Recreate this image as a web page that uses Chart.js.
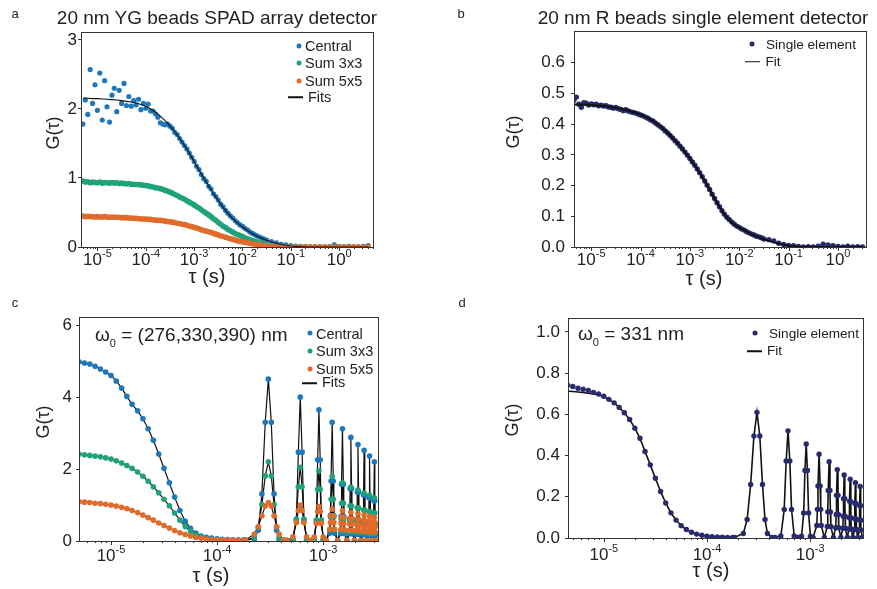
<!DOCTYPE html>
<html>
<head>
<meta charset="utf-8">
<script src="https://cdn.jsdelivr.net/npm/chart.js@4.4.1/dist/chart.umd.min.js"></script>
<style>
  body { margin: 0; background: #fff; }
  #fig { position: relative; width: 877px; height: 589px; overflow: hidden;
         font-family: Arial, "Liberation Sans", Helvetica, sans-serif; color: #222; }
  canvas { position: absolute; }
  .t { position: absolute; transform: translate(-50%, -50%); white-space: nowrap; line-height: 1; }
  .l { position: absolute; transform: translateY(-50%); white-space: nowrap; line-height: 1; }
  .rot { transform: translate(-50%, -50%) rotate(-90deg); }
  .dot { position: absolute; width: 5px; height: 5px; border-radius: 50%; transform: translate(-50%, -50%); }
  .ln { position: absolute; height: 1.5px; background: #111; transform: translateY(-50%); }
  sub { font-size: 11px; vertical-align: -6px; line-height: 0; }
</style>
</head>
<body>
<div id="fig">
  <canvas id="ca" width="440" height="290" style="left:0;top:0"></canvas>
  <canvas id="cb" width="437" height="290" style="left:440px;top:0"></canvas>
  <canvas id="cc" width="440" height="299" style="left:0;top:290px"></canvas>
  <canvas id="cd" width="437" height="299" style="left:440px;top:290px"></canvas>

  <!-- panel a -->
  <div class="t" style="left:15px;top:13px;font-size:13px">a</div>
  <div class="t" style="left:217px;top:17px;font-size:19px">20 nm YG beads SPAD array detector</div>
  <div class="t rot" style="left:53px;top:133px;font-size:18px">G(τ)</div>
  <div class="t" style="left:207px;top:276px;font-size:20px">τ (s)</div>
  <div class="dot" style="left:299px;top:46px;background:#1f77bb"></div>
  <div class="l" style="left:305px;top:45.5px;font-size:14.5px">Central</div>
  <div class="dot" style="left:299px;top:63px;background:#1fa27a"></div>
  <div class="l" style="left:305px;top:63px;font-size:14.5px">Sum 3x3</div>
  <div class="dot" style="left:299px;top:80.5px;background:#e06b2a"></div>
  <div class="l" style="left:305px;top:80.5px;font-size:14.5px">Sum 5x5</div>
  <div class="ln" style="left:288px;top:97px;width:15px"></div>
  <div class="l" style="left:308px;top:96.5px;font-size:14.5px">Fits</div>

  <!-- panel b -->
  <div class="t" style="left:461px;top:12.5px;font-size:13px">b</div>
  <div class="t" style="left:703px;top:17px;font-size:19px">20 nm R beads single element detector</div>
  <div class="t rot" style="left:513px;top:132px;font-size:18px">G(τ)</div>
  <div class="t" style="left:704px;top:278px;font-size:20px">τ (s)</div>
  <div class="dot" style="left:752px;top:43.5px;background:#282a6e"></div>
  <div class="l" style="left:766px;top:44.5px;font-size:13.6px">Single element</div>
  <div class="ln" style="left:745px;top:61.5px;width:15px"></div>
  <div class="l" style="left:765.5px;top:61.5px;font-size:13.6px">Fit</div>

  <!-- panel c -->
  <div class="t" style="left:15px;top:301.5px;font-size:13px">c</div>
  <div class="l" style="left:95px;top:334px;font-size:19px">ω<sub>0</sub> = (276,330,390) nm</div>
  <div class="t rot" style="left:43px;top:422px;font-size:18px">G(τ)</div>
  <div class="t" style="left:211px;top:575px;font-size:20px">τ (s)</div>
  <div class="dot" style="left:310px;top:333px;background:#1f77bb"></div>
  <div class="l" style="left:316px;top:333.5px;font-size:14.5px">Central</div>
  <div class="dot" style="left:309.5px;top:351px;background:#1fa27a"></div>
  <div class="l" style="left:316px;top:351px;font-size:14.5px">Sum 3x3</div>
  <div class="dot" style="left:309.5px;top:369px;background:#e06b2a"></div>
  <div class="l" style="left:316px;top:368.5px;font-size:14.5px">Sum 5x5</div>
  <div class="ln" style="left:302px;top:383px;width:15px"></div>
  <div class="l" style="left:322px;top:382px;font-size:14.5px">Fits</div>

  <!-- panel d -->
  <div class="t" style="left:462px;top:302px;font-size:13px">d</div>
  <div class="l" style="left:578px;top:333px;font-size:19px">ω<sub>0</sub> = 331 nm</div>
  <div class="t rot" style="left:512px;top:420px;font-size:18px">G(τ)</div>
  <div class="t" style="left:711px;top:570px;font-size:20px">τ (s)</div>
  <div class="dot" style="left:755px;top:333px;background:#282a6e"></div>
  <div class="l" style="left:769px;top:333.5px;font-size:13.6px">Single element</div>
  <div class="ln" style="left:747px;top:351px;width:15px"></div>
  <div class="l" style="left:767px;top:351px;font-size:13.6px">Fit</div>
</div>

<script>
// ---------- panel a : 20 nm YG beads, SPAD array ----------
const tauA = [
  5.01e-6, 5.62e-6, 6.31e-6, 7.08e-6, 7.94e-6, 8.91e-6,
  1.00e-5, 1.12e-5, 1.26e-5, 1.41e-5, 1.58e-5, 1.78e-5, 2.00e-5, 2.24e-5, 2.51e-5, 2.82e-5,
  3.16e-5, 3.55e-5, 3.98e-5, 4.47e-5, 5.01e-5, 5.62e-5, 6.31e-5, 7.08e-5, 7.94e-5, 8.91e-5,
  1.00e-4, 1.12e-4, 1.26e-4, 1.41e-4, 1.58e-4, 1.78e-4, 2.00e-4, 2.24e-4, 2.51e-4, 2.82e-4,
  3.16e-4, 3.55e-4, 3.98e-4, 4.47e-4, 5.01e-4, 5.62e-4, 6.31e-4, 7.08e-4, 7.94e-4, 8.91e-4,
  1.00e-3, 1.12e-3, 1.26e-3, 1.41e-3, 1.58e-3, 1.78e-3, 2.00e-3, 2.24e-3, 2.51e-3, 2.82e-3,
  3.16e-3, 3.55e-3, 3.98e-3, 4.47e-3, 5.01e-3, 5.62e-3, 6.31e-3, 7.08e-3, 7.94e-3, 8.91e-3,
  1.00e-2, 1.12e-2, 1.26e-2, 1.41e-2, 1.58e-2, 1.78e-2, 2.00e-2, 2.24e-2, 2.51e-2, 2.82e-2, 3.16e-2,
  3.98e-2, 5.01e-2, 6.31e-2, 7.94e-2, 0.1, 0.126, 0.158, 0.2, 0.251, 0.316, 0.398,
  0.501, 0.631, 0.794, 1, 1.26, 1.58, 2.0, 2.51, 3.16, 3.98
];
const centralA = [
  1.78, 2.13, 1.92, 2.57, 2.08, 2.35,
  1.98, 2.52, 1.84, 2.41, 2.03, 1.81, 2.20, 2.30, 1.96, 2.27,
  2.08, 2.37, 2.05, 2.18, 2.04, 2.12, 2.06, 2.14, 1.99, 2.08,
  2.01, 2.07, 1.97, 1.97, 1.93, 1.88, 1.80, 1.78, 1.77, 1.78,
  1.75, 1.72, 1.66, 1.63, 1.57, 1.52, 1.47, 1.42, 1.36, 1.30,
  1.24, 1.17, 1.12, 1.05, 0.99, 0.95, 0.88, 0.84, 0.77, 0.73,
  0.68, 0.62, 0.58, 0.53, 0.49, 0.45, 0.42, 0.38, 0.35, 0.32,
  0.30, 0.27, 0.25, 0.22, 0.20, 0.18, 0.16, 0.145, 0.13, 0.115, 0.10,
  0.08, 0.06, 0.04, 0.03, 0.02, 0.012, 0.008, 0.005, 0.003, 0.002, 0.004,
  0.0, 0.002, 0.03, 0.006, 0.0, 0.008, 0.002, 0.0, 0.01, 0.02
];
const sum3A = [
  0.955, 0.94, 0.945, 0.93, 0.94, 0.935,
  0.93, 0.94, 0.925, 0.935, 0.93, 0.925, 0.935, 0.925, 0.93, 0.92,
  0.925, 0.92, 0.915, 0.92, 0.91, 0.91, 0.905, 0.905, 0.90, 0.895,
  0.89, 0.885, 0.875, 0.87, 0.86, 0.855, 0.845, 0.835, 0.82, 0.81,
  0.795, 0.78, 0.76, 0.745, 0.725, 0.71, 0.69, 0.67, 0.65, 0.63,
  0.61, 0.585, 0.565, 0.54, 0.515, 0.49, 0.465, 0.44, 0.41, 0.385,
  0.355, 0.33, 0.30, 0.28, 0.255, 0.235, 0.215, 0.195, 0.18, 0.165,
  0.15, 0.135, 0.12, 0.107, 0.095, 0.082, 0.07, 0.06, 0.05, 0.042, 0.035,
  0.022, 0.013, 0.008, 0.004, 0.002, 0.001, 0, 0, 0, 0, 0,
  0, 0, 0, 0, 0, 0, 0, 0, 0, 0
];
const sum5A = [
  0.45, 0.44, 0.445, 0.44, 0.44, 0.435,
  0.44, 0.435, 0.435, 0.44, 0.435, 0.43, 0.435, 0.43, 0.43, 0.43,
  0.425, 0.425, 0.425, 0.42, 0.42, 0.415, 0.415, 0.41, 0.41, 0.405,
  0.405, 0.40, 0.40, 0.395, 0.39, 0.385, 0.385, 0.38, 0.375, 0.37,
  0.365, 0.36, 0.355, 0.345, 0.34, 0.33, 0.325, 0.315, 0.305, 0.295,
  0.285, 0.275, 0.265, 0.25, 0.24, 0.23, 0.22, 0.21, 0.198, 0.186,
  0.175, 0.163, 0.152, 0.141, 0.13, 0.12, 0.11, 0.10, 0.09, 0.082,
  0.075, 0.068, 0.062, 0.055, 0.048, 0.042, 0.037, 0.031, 0.026, 0.022, 0.018,
  0.011, 0.006, 0.003, 0.001, 0, 0, 0, 0, 0, 0, 0,
  0, 0, 0, 0, 0, 0, 0, 0, 0, 0
];
const tauFitA = [
  5.01e-6, 6.31e-6, 7.94e-6,
  1e-5, 1.26e-5, 1.58e-5, 2e-5, 2.51e-5, 3.16e-5, 3.98e-5, 5.01e-5, 6.31e-5, 7.94e-5,
  1e-4, 1.26e-4, 1.58e-4, 2e-4, 2.51e-4, 3.16e-4, 3.98e-4, 5.01e-4, 6.31e-4, 7.94e-4,
  1e-3, 1.26e-3, 1.58e-3, 2e-3, 2.51e-3, 3.16e-3, 3.98e-3, 5.01e-3, 6.31e-3, 7.94e-3,
  1e-2, 1.26e-2, 1.58e-2, 2e-2, 2.51e-2, 3.16e-2, 3.98e-2, 5.01e-2, 6.31e-2, 7.94e-2,
  0.1, 0.126, 0.158, 0.2, 0.251, 0.316, 0.398, 0.501, 0.631, 0.794,
  1, 1.26, 1.58, 2, 2.51, 3.16, 3.98
];
const fitCentralA = [
  2.155, 2.155, 2.15, 2.15, 2.145, 2.14, 2.135, 2.13, 2.12, 2.11,
  2.10, 2.085, 2.065, 2.04, 2.00, 1.955, 1.895, 1.83, 1.755, 1.67,
  1.575, 1.47, 1.36, 1.24, 1.115, 1.00, 0.885, 0.775, 0.67, 0.57,
  0.485, 0.41, 0.345, 0.29, 0.24, 0.195, 0.157, 0.125, 0.097, 0.073,
  0.053, 0.037, 0.025, 0.015, 0.009, 0.005, 0.003, 0.001, 0, 0,
  0, 0, 0, 0, 0, 0, 0, 0, 0, 0
];
const fitSum3A = [
  0.95, 0.94, 0.935, 0.935, 0.93, 0.93, 0.93, 0.925, 0.925, 0.92,
  0.915, 0.91, 0.905, 0.895, 0.88, 0.865, 0.85, 0.825, 0.80, 0.765,
  0.73, 0.69, 0.65, 0.61, 0.565, 0.515, 0.465, 0.41, 0.355, 0.30,
  0.255, 0.215, 0.18, 0.15, 0.12, 0.095, 0.07, 0.05, 0.035, 0.022,
  0.013, 0.007, 0.004, 0.002, 0, 0, 0, 0, 0, 0,
  0, 0, 0, 0, 0, 0, 0, 0, 0, 0
];
const fitSum5A = [
  0.445, 0.44, 0.44, 0.44, 0.435, 0.435, 0.435, 0.43, 0.43, 0.425,
  0.42, 0.415, 0.41, 0.405, 0.40, 0.39, 0.385, 0.375, 0.365, 0.355,
  0.34, 0.325, 0.305, 0.285, 0.265, 0.24, 0.22, 0.198, 0.175, 0.152,
  0.13, 0.11, 0.09, 0.075, 0.062, 0.048, 0.037, 0.026, 0.018, 0.011,
  0.006, 0.003, 0.001, 0, 0, 0, 0, 0, 0, 0,
  0, 0, 0, 0, 0, 0, 0, 0, 0, 0
];

// ---------- panel b : 20 nm R beads, single element ----------
const tauB = [
  3.98e-6, 4.47e-6, 5.01e-6, 5.62e-6, 6.31e-6, 7.08e-6, 7.94e-6, 8.91e-6,
  1.00e-5, 1.12e-5, 1.26e-5, 1.41e-5, 1.58e-5, 1.78e-5, 2.00e-5, 2.24e-5, 2.51e-5, 2.82e-5,
  3.16e-5, 3.55e-5, 3.98e-5, 4.47e-5, 5.01e-5, 5.62e-5, 6.31e-5, 7.08e-5, 7.94e-5, 8.91e-5,
  1.00e-4, 1.12e-4, 1.26e-4, 1.41e-4, 1.58e-4, 1.78e-4, 2.00e-4, 2.24e-4, 2.51e-4, 2.82e-4,
  3.16e-4, 3.55e-4, 3.98e-4, 4.47e-4, 5.01e-4, 5.62e-4, 6.31e-4, 7.08e-4, 7.94e-4, 8.91e-4,
  1.00e-3, 1.12e-3, 1.26e-3, 1.41e-3, 1.58e-3, 1.78e-3, 2.00e-3, 2.24e-3, 2.51e-3, 2.82e-3,
  3.16e-3, 3.55e-3, 3.98e-3, 4.47e-3, 5.01e-3, 5.62e-3, 6.31e-3, 7.08e-3, 7.94e-3, 8.91e-3,
  1.00e-2, 1.12e-2, 1.26e-2, 1.41e-2, 1.58e-2, 1.78e-2, 2.00e-2, 2.24e-2, 2.51e-2, 2.82e-2, 3.16e-2,
  3.98e-2, 5.01e-2, 6.31e-2, 7.94e-2, 0.1, 0.126, 0.158, 0.2, 0.251, 0.316,
  0.398, 0.501, 0.631, 0.794, 1, 1.26, 1.58, 2.0, 2.51, 3.16
];
const singleB = [
  0.485, 0.478, 0.488, 0.465, 0.455, 0.47, 0.468, 0.462,
  0.466, 0.463, 0.465, 0.46, 0.462, 0.459, 0.46, 0.456, 0.455, 0.452,
  0.454, 0.45, 0.448, 0.444, 0.447, 0.443, 0.44, 0.438, 0.436, 0.433,
  0.43, 0.427, 0.423, 0.419, 0.414, 0.41, 0.404, 0.398, 0.392, 0.386,
  0.378, 0.371, 0.363, 0.355, 0.346, 0.338, 0.328, 0.319, 0.309, 0.299,
  0.288, 0.277, 0.266, 0.254, 0.242, 0.229, 0.215, 0.201, 0.187, 0.172,
  0.158, 0.144, 0.131, 0.118, 0.107, 0.097, 0.089, 0.081, 0.074, 0.068,
  0.064, 0.059, 0.055, 0.05, 0.046, 0.042, 0.039, 0.035, 0.033, 0.03, 0.026,
  0.024, 0.02, 0.012, 0.008, 0.005, 0.004, 0.002, 0, 0.001, 0,
  0.003, 0.009, 0.007, 0.004, 0.002, 0, 0.003, 0, 0.001, 0
];
const tauFitB = [
  3.98e-6, 5.01e-6, 6.31e-6, 7.94e-6,
  1e-5, 1.26e-5, 1.58e-5, 2e-5, 2.51e-5, 3.16e-5, 3.98e-5, 5.01e-5, 6.31e-5, 7.94e-5,
  1e-4, 1.26e-4, 1.58e-4, 2e-4, 2.51e-4, 3.16e-4, 3.98e-4, 5.01e-4, 6.31e-4, 7.94e-4,
  1e-3, 1.26e-3, 1.58e-3, 2e-3, 2.51e-3, 3.16e-3, 3.98e-3, 5.01e-3, 6.31e-3, 7.94e-3,
  1e-2, 1.26e-2, 1.58e-2, 2e-2, 2.51e-2, 3.16e-2, 3.98e-2, 5.01e-2, 6.31e-2, 7.94e-2,
  0.1, 0.126, 0.158, 0.2, 0.251, 0.316, 0.398, 0.501, 0.631, 0.794,
  1, 1.26, 1.58, 2, 2.51, 3.16
];
const fitSingleB = [
  0.464, 0.464, 0.463, 0.463, 0.462, 0.461, 0.46, 0.458, 0.456, 0.453,
  0.45, 0.446, 0.442, 0.437, 0.431, 0.424, 0.415, 0.405, 0.393, 0.379,
  0.364, 0.347, 0.329, 0.309, 0.289, 0.266, 0.242, 0.215, 0.187, 0.158,
  0.13, 0.106, 0.087, 0.073, 0.063, 0.054, 0.046, 0.038, 0.031, 0.025,
  0.02, 0.015, 0.011, 0.007, 0.004, 0.002, 0.001, 0, 0, 0,
  0, 0, 0, 0, 0, 0, 0, 0, 0, 0
];

// ---------- panels c and d : scanning, same lag grid ----------
const tauCD = [
  4.47e-6, 5.01e-6, 5.62e-6, 6.31e-6, 7.08e-6, 7.94e-6, 8.91e-6,
  1.00e-5, 1.12e-5, 1.26e-5, 1.41e-5, 1.58e-5, 1.78e-5, 2.00e-5, 2.24e-5, 2.51e-5, 2.82e-5,
  3.16e-5, 3.55e-5, 3.98e-5, 4.47e-5, 5.01e-5, 5.62e-5, 6.31e-5, 7.08e-5, 7.94e-5, 8.91e-5,
  1.00e-4, 1.12e-4, 1.26e-4, 1.41e-4, 1.58e-4, 1.78e-4,
  1.85e-4, 2.25e-4, 2.45e-4, 2.65e-4, 2.85e-4, 3.05e-4, 3.25e-4, 3.45e-4, 3.65e-4, 3.85e-4, 4.25e-4, 4.575e-4,
  5.2e-4, 5.6e-4, 5.85e-4, 6.1e-4, 6.35e-4, 6.6e-4, 7.0e-4, 7.625e-4,
  8.25e-4, 8.65e-4, 8.9e-4, 9.15e-4, 9.4e-4, 9.65e-4, 1.005e-3, 1.0675e-3,
  1.16e-3, 1.175e-3, 1.19e-3, 1.22e-3, 1.25e-3, 1.265e-3, 1.28e-3, 1.3725e-3,
  1.465e-3, 1.48e-3, 1.495e-3, 1.525e-3, 1.555e-3, 1.57e-3, 1.585e-3, 1.6775e-3,
  1.77e-3, 1.785e-3, 1.80e-3, 1.83e-3, 1.86e-3, 1.875e-3, 1.89e-3, 1.9825e-3,
  2.075e-3, 2.09e-3, 2.105e-3, 2.135e-3, 2.165e-3, 2.18e-3, 2.195e-3, 2.2875e-3,
  2.38e-3, 2.395e-3, 2.41e-3, 2.44e-3, 2.47e-3, 2.485e-3, 2.50e-3, 2.5925e-3,
  2.685e-3, 2.70e-3, 2.715e-3, 2.745e-3, 2.775e-3, 2.79e-3, 2.805e-3, 2.8975e-3,
  2.99e-3, 3.005e-3, 3.02e-3, 3.05e-3, 3.08e-3, 3.095e-3, 3.11e-3, 3.20e-3
];
const centralC = [
  5.00, 4.98, 4.95, 4.92, 4.86, 4.78, 4.70,
  4.60, 4.45, 4.25, 4.02, 3.80, 3.62, 3.40, 3.12, 2.80, 2.42,
  2.02, 1.62, 1.22, 0.85, 0.55, 0.35, 0.22, 0.14, 0.10, 0.08,
  0.06, 0.05, 0.04, 0.035, 0.03, 0.03,
  0.03, 0.05, 0.30, 1.31, 3.30, 4.50, 3.30, 1.31, 0.30, 0.05, 0.02, 0.02,
  0.03, 0.58, 2.47, 4.00, 2.47, 0.58, 0.03, 0.02,
  0.03, 0.53, 2.26, 3.65, 2.26, 0.53, 0.03, 0.02,
  0.22, 0.71, 1.67, 3.30, 1.67, 0.71, 0.22, 0.02,
  0.21, 0.68, 1.58, 3.12, 1.58, 0.68, 0.21, 0.02,
  0.20, 0.62, 1.46, 2.88, 1.46, 0.62, 0.20, 0.02,
  0.19, 0.58, 1.36, 2.68, 1.36, 0.58, 0.19, 0.02,
  0.18, 0.55, 1.28, 2.52, 1.28, 0.55, 0.18, 0.02,
  0.17, 0.52, 1.20, 2.36, 1.20, 0.52, 0.17, 0.02,
  0.16, 0.48, 1.12, 2.20, 1.12, 0.48, 0.16, 0.02
];
const sum3C = [
  2.42, 2.41, 2.40, 2.38, 2.36, 2.34, 2.31,
  2.28, 2.23, 2.17, 2.10, 2.02, 1.92, 1.80, 1.66, 1.51, 1.34,
  1.16, 0.98, 0.78, 0.58, 0.40, 0.27, 0.17, 0.11, 0.07, 0.05,
  0.035, 0.025, 0.02, 0.015, 0.012, 0.01,
  0.012, 0.10, 0.38, 1.01, 1.81, 2.20, 1.81, 1.01, 0.38, 0.10, 0.012, 0.01,
  0.05, 0.61, 1.51, 2.05, 1.51, 0.61, 0.05, 0.01,
  0.045, 0.58, 1.44, 1.95, 1.44, 0.58, 0.045, 0.01,
  0.31, 0.67, 1.16, 1.80, 1.16, 0.67, 0.31, 0.01,
  0.28, 0.61, 1.05, 1.62, 1.05, 0.61, 0.28, 0.01,
  0.26, 0.56, 0.97, 1.50, 0.97, 0.56, 0.26, 0.01,
  0.25, 0.53, 0.92, 1.42, 0.92, 0.53, 0.25, 0.01,
  0.23, 0.50, 0.86, 1.33, 0.86, 0.50, 0.23, 0.01,
  0.22, 0.48, 0.82, 1.27, 0.82, 0.48, 0.22, 0.01,
  0.21, 0.45, 0.78, 1.20, 0.78, 0.45, 0.21, 0.01
];
const sum5C = [
  1.09, 1.09, 1.08, 1.07, 1.05, 1.04, 1.02,
  1.00, 0.97, 0.94, 0.90, 0.85, 0.79, 0.72, 0.65, 0.58, 0.50,
  0.43, 0.36, 0.29, 0.23, 0.18, 0.14, 0.10, 0.075, 0.055, 0.04,
  0.03, 0.025, 0.02, 0.018, 0.015, 0.015,
  0.03, 0.19, 0.40, 0.70, 0.97, 1.07, 0.97, 0.70, 0.40, 0.19, 0.03, 0.01,
  0.12, 0.51, 0.85, 1.00, 0.85, 0.51, 0.12, 0.01,
  0.11, 0.49, 0.82, 0.96, 0.82, 0.49, 0.11, 0.01,
  0.33, 0.51, 0.70, 0.88, 0.70, 0.51, 0.33, 0.01,
  0.32, 0.49, 0.66, 0.84, 0.66, 0.49, 0.32, 0.01,
  0.30, 0.47, 0.63, 0.80, 0.63, 0.47, 0.30, 0.01,
  0.29, 0.44, 0.60, 0.76, 0.60, 0.44, 0.29, 0.01,
  0.27, 0.42, 0.57, 0.72, 0.57, 0.42, 0.27, 0.01,
  0.26, 0.40, 0.54, 0.68, 0.54, 0.40, 0.26, 0.01,
  0.25, 0.38, 0.52, 0.65, 0.52, 0.38, 0.25, 0.01
];
const singleD = [
  0.742, 0.735, 0.727, 0.722, 0.716, 0.707, 0.699,
  0.688, 0.673, 0.656, 0.634, 0.608, 0.575, 0.533, 0.484, 0.42, 0.355,
  0.29, 0.226, 0.17, 0.122, 0.087, 0.06, 0.041, 0.028, 0.019, 0.013,
  0.009, 0.006, 0.005, 0.004, 0.003, 0.003,
  0.003, 0.022, 0.09, 0.26, 0.495, 0.61, 0.495, 0.26, 0.09, 0.022, 0.003, 0.003,
  0.01, 0.138, 0.374, 0.52, 0.374, 0.138, 0.01, 0.003,
  0.009, 0.121, 0.328, 0.456, 0.328, 0.121, 0.009, 0.003,
  0.061, 0.139, 0.253, 0.407, 0.253, 0.139, 0.061, 0.003,
  0.056, 0.127, 0.231, 0.37, 0.231, 0.127, 0.056, 0.003,
  0.05, 0.114, 0.207, 0.332, 0.207, 0.114, 0.05, 0.003,
  0.047, 0.106, 0.191, 0.306, 0.191, 0.106, 0.047, 0.003,
  0.044, 0.098, 0.178, 0.285, 0.178, 0.098, 0.044, 0.003,
  0.041, 0.093, 0.168, 0.268, 0.168, 0.093, 0.041, 0.003,
  0.039, 0.087, 0.157, 0.25, 0.157, 0.087, 0.039, 0.003
];
// fit sits slightly under the first few points, then follows the data
const fitStartD = [0.713, 0.711, 0.709, 0.706, 0.703, 0.699, 0.694, 0.686];

const BLUE = '#1f77bb', GREEN = '#1fa27a', ORANGE = '#e06b2a', NAVY = '#282a6e';
const FONT = 'Arial, "Liberation Sans", Helvetica, sans-serif';

Chart.defaults.font.family = FONT;
Chart.defaults.color = '#222';

function pts(tau, g) {
  if (tau.length !== g.length) throw new Error('length mismatch ' + tau.length + ' vs ' + g.length);
  return tau.map((t, i) => ({ x: t, y: g[i] }));
}

function dots(label, tau, g, color, r, order) {
  return { label, data: pts(tau, g), backgroundColor: color, borderColor: color,
           pointRadius: r, pointBorderWidth: 0, pointHoverRadius: r, order };
}

function fit(label, tau, g, w, order) {
  return { label, data: pts(tau, g), showLine: true, borderColor: '#111', borderWidth: w,
           pointRadius: 0, fill: false, tension: 0, order };
}

// frame, log minor ticks and 10^n labels
const logAxis = {
  id: 'logAxis',
  afterDraw(chart, args, o) {
    const { ctx, chartArea: a } = chart;
    const x = chart.scales.x;
    ctx.save();
    ctx.strokeStyle = '#333';
    ctx.lineWidth = 1;
    ctx.strokeRect(a.left - 0.5, a.top - 0.5, a.right - a.left + 1, a.bottom - a.top + 1);
    ctx.beginPath();
    for (let k = Math.floor(Math.log10(x.min)); k <= Math.ceil(Math.log10(x.max)); k++) {
      for (let m = 1; m < 10; m++) {
        const v = m * Math.pow(10, k);
        if (v < x.min || v > x.max) continue;
        const px = Math.round(x.getPixelForValue(v)) + 0.5;
        ctx.moveTo(px, a.bottom);
        ctx.lineTo(px, a.bottom + (m === 1 ? 4 : 2));
      }
    }
    ctx.stroke();
    ctx.fillStyle = '#222';
    ctx.textBaseline = 'alphabetic';
    ctx.textAlign = 'left';
    for (const p of o.powers) {
      const px = x.getPixelForValue(Math.pow(10, p));
      const e = String(p);
      ctx.font = '17px ' + FONT;
      const wb = ctx.measureText('10').width;
      ctx.font = '11px ' + FONT;
      const we = ctx.measureText(e).width;
      const x0 = px - (wb + we) / 2;
      ctx.font = '17px ' + FONT;
      ctx.fillText('10', x0, a.bottom + o.drop);
      ctx.font = '11px ' + FONT;
      ctx.fillText(e, x0 + wb, a.bottom + o.drop - 8);
    }
    ctx.restore();
  }
};

function makeChart(id, p) {
  return new Chart(document.getElementById(id), {
    type: 'scatter',
    data: { datasets: p.datasets },
    options: {
      responsive: false,
      animation: false,
      events: [],
      layout: { padding: { left: 0, top: p.top, right: p.right, bottom: 0 } },
      plugins: { legend: { display: false }, tooltip: { enabled: false },
                 logAxis: { powers: p.powers, drop: p.drop } },
      scales: {
        x: {
          type: 'logarithmic', min: p.xMin, max: p.xMax,
          grid: { display: false }, border: { display: false },
          ticks: { display: false },
          afterFit: s => { s.height = p.xH; }
        },
        y: {
          type: 'linear', min: 0, max: p.yMax,
          grid: { drawOnChartArea: false, drawTicks: true, tickLength: 4, color: '#333' },
          border: { display: false },
          ticks: { font: { size: 17 }, color: '#222', padding: p.yPad, callback: p.yFmt },
          afterBuildTicks: s => { s.ticks = p.yTicks.map(v => ({ value: v })); },
          afterFit: s => { s.width = p.yW; }
        }
      }
    },
    plugins: [logAxis]
  });
}

const yTicksA = [0, 1, 2, 3];
const yTicksB = [0, 0.1, 0.2, 0.3, 0.4, 0.5, 0.6];
const yTicksC = [0, 2, 4, 6];
const yTicksD = [0, 0.2, 0.4, 0.6, 0.8, 1.0];
const powersAB = [-5, -4, -3, -2, -1, 0];
const powersCD = [-5, -4, -3];

makeChart('ca', {
  datasets: [
    fit('Fits', tauFitA, fitCentralA, 1.1, 0),
    dots('Sum 5x5', tauA, sum5A, ORANGE, 2.8, 1),
    dots('Sum 3x3', tauA, sum3A, GREEN, 2.8, 2),
    dots('Central', tauA, centralA, BLUE, 2.6, 3),
    fit('Fits', tauFitA, fitSum3A, 1.1, 4),
    fit('Fits', tauFitA, fitSum5A, 1.1, 4)
  ],
  xMin: 4.8e-6, xMax: 5, yMax: 3.1, yTicks: yTicksA, yFmt: v => String(v),
  top: 33, right: 67, xH: 43, yW: 82, yPad: 1, powers: powersAB, drop: 18
});

makeChart('cb', {
  datasets: [
    fit('Fit', tauFitB, fitSingleB, 2, 0),
    dots('Single element', tauB, singleB, NAVY, 2.7, 1)
  ],
  xMin: 4.7e-6, xMax: 3.7, yMax: 0.70, yTicks: yTicksB, yFmt: v => v.toFixed(1),
  top: 32, right: 11, xH: 43, yW: 135, yPad: 6, powers: powersAB, drop: 18
});

makeChart('cc', {
  datasets: [
    dots('Sum 5x5', tauCD, sum5C, ORANGE, 2.8, 1),
    dots('Sum 3x3', tauCD, sum3C, GREEN, 2.8, 2),
    dots('Central', tauCD, centralC, BLUE, 2.8, 3),
    fit('Fits', tauCD, centralC, 1.2, 4),
    fit('Fits', tauCD, sum3C, 1.2, 4),
    fit('Fits', tauCD, sum5C, 1.2, 4)
  ],
  xMin: 5.1e-6, xMax: 3.3e-3, yMax: 6.2, yTicks: yTicksC, yFmt: v => String(v),
  top: 28, right: 62, xH: 48, yW: 80, yPad: 4, powers: powersCD, drop: 20
});

makeChart('cd', {
  datasets: [
    dots('Single element', tauCD, singleD, NAVY, 2.7, 1),
    fit('Fit', tauCD, fitStartD.concat(singleD.slice(fitStartD.length)), 1.6, 2)
  ],
  xMin: 4.6e-6, xMax: 3.25e-3, yMax: 1.063, yTicks: yTicksD, yFmt: v => v.toFixed(1),
  top: 29, right: 14, xH: 51, yW: 129, yPad: 5, powers: powersCD, drop: 22
});
</script>
</body>
</html>
